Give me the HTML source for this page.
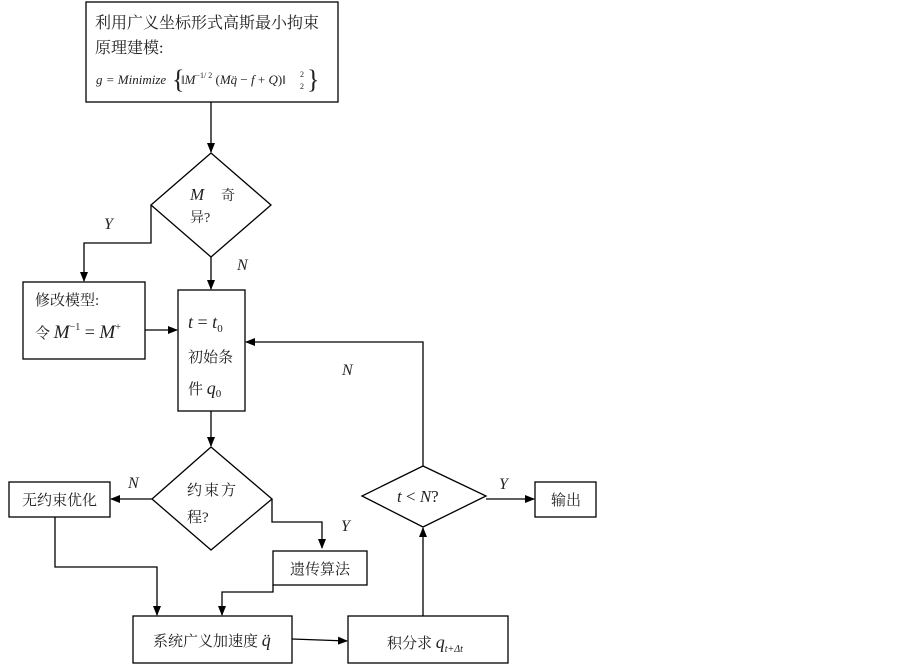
<!DOCTYPE html>
<html><head><meta charset="utf-8"><style>
body{margin:0;background:#fff}
svg{display:block}
text{font-family:"Liberation Serif","Noto Serif CJK SC",serif;fill:#222}
.i{font-style:italic}
</style></head><body>
<svg width="903" height="665" viewBox="0 0 903 665" xmlns="http://www.w3.org/2000/svg">
<defs><marker id="a" markerWidth="10" markerHeight="8" refX="9" refY="4" orient="auto" markerUnits="userSpaceOnUse"><path d="M0,0L10,4L0,8z" fill="#000"/></marker></defs>
<g fill="none" stroke="#000" stroke-width="1.3">
<rect x="86" y="2" width="252" height="100"/>
<polygon points="211,153 271,205 211,257 151,205"/>
<rect x="23" y="282" width="122" height="77"/>
<rect x="178" y="290" width="67" height="121"/>
<polygon points="211,447 272,499 211,550 152,499"/>
<rect x="9" y="482" width="101" height="35"/>
<rect x="273" y="551" width="94" height="34"/>
<rect x="133" y="616" width="159" height="47"/>
<rect x="348" y="616" width="160" height="47"/>
<polygon points="423,466 486,496 423,527 362,496"/>
<rect x="535" y="482" width="61" height="35"/>
<path d="M211,102V152" marker-end="url(#a)"/>
<path d="M151,205V243H84V281" marker-end="url(#a)"/>
<path d="M211,257V289" marker-end="url(#a)"/>
<path d="M145,330H177" marker-end="url(#a)"/>
<path d="M211,411V446" marker-end="url(#a)"/>
<path d="M152,499H111" marker-end="url(#a)"/>
<path d="M272,499V522H322V548" marker-end="url(#a)"/>
<path d="M55,517V567H157V615" marker-end="url(#a)"/>
<path d="M273,585V592H222V615" marker-end="url(#a)"/>
<path d="M292,639L347,641" marker-end="url(#a)"/>
<path d="M423,616V528" marker-end="url(#a)"/>
<path d="M423,466V342H246" marker-end="url(#a)"/>
<path d="M486,499H534" marker-end="url(#a)"/>
</g>
<text x="95" y="28" font-size="16">利用广义坐标形式高斯最小拘束</text>
<text x="95" y="53" font-size="16">原理建模:</text>
<text x="96" y="84" font-size="13" class="i">g = Minimize</text>
<text x="172" y="88" font-size="26">{</text>
<text x="181" y="84" font-size="13"><tspan class="i">‖M</tspan><tspan font-size="8" dy="-6">−1/ 2</tspan><tspan dy="6"> (</tspan><tspan class="i">Mq̈</tspan> − <tspan class="i">f</tspan> + <tspan class="i">Q</tspan>)‖</text>
<text x="300" y="77" font-size="8">2</text>
<text x="300" y="89" font-size="8">2</text>
<text x="307" y="88" font-size="26">}</text>
<text x="190" y="200" font-size="17" class="i">M</text>
<text x="221" y="200" font-size="14">奇</text>
<text x="190" y="222" font-size="14">异?</text>
<text x="104" y="229" font-size="16" class="i">Y</text>
<text x="237" y="270" font-size="16" class="i">N</text>
<text x="35" y="305" font-size="15">修改模型:</text>
<text x="35" y="338" font-size="15">令 <tspan class="i" font-size="19">M</tspan><tspan font-size="10" dy="-8">−1</tspan><tspan dy="8" font-size="18"> = </tspan><tspan class="i" font-size="19">M</tspan><tspan font-size="10" dy="-8">+</tspan></text>
<text x="188" y="328" font-size="18"><tspan class="i">t</tspan> = <tspan class="i">t</tspan><tspan font-size="11" dy="4">0</tspan></text>
<text x="188" y="362" font-size="15">初始条</text>
<text x="188" y="394" font-size="15">件 <tspan class="i" font-size="18">q</tspan><tspan font-size="11" dy="3">0</tspan></text>
<text x="342" y="375" font-size="16" class="i">N</text>
<text x="128" y="488" font-size="16" class="i">N</text>
<text x="187" y="495" font-size="15" letter-spacing="2">约束方</text>
<text x="187" y="522" font-size="15">程?</text>
<text x="22" y="505" font-size="15">无约束优化</text>
<text x="341" y="531" font-size="16" class="i">Y</text>
<text x="290" y="574" font-size="15">遗传算法</text>
<text x="153" y="646" font-size="15">系统广义加速度 <tspan class="i" font-size="18">q̈</tspan></text>
<text x="387" y="648" font-size="15">积分求 <tspan class="i" font-size="18">q</tspan><tspan class="i" font-size="10" dy="4">t+Δt</tspan></text>
<text x="397" y="502" font-size="17"><tspan class="i">t</tspan> &lt; <tspan class="i">N</tspan>?</text>
<text x="499" y="489" font-size="16" class="i">Y</text>
<text x="551" y="505" font-size="15">输出</text>
</svg>
</body></html>
